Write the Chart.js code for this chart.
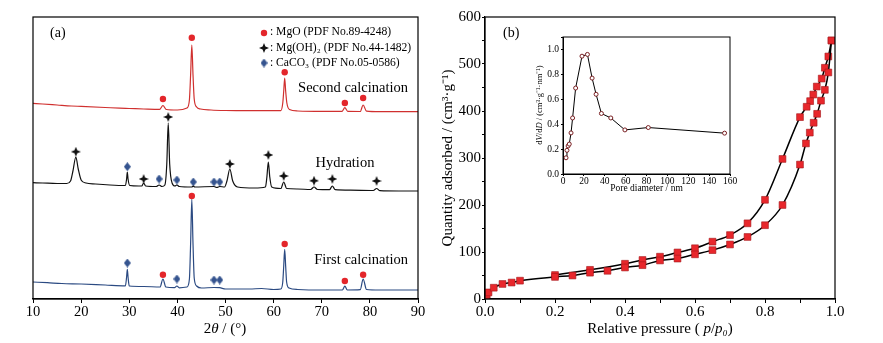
<!DOCTYPE html>
<html>
<head>
<meta charset="utf-8">
<script src="https://cdn.jsdelivr.net/npm/chart.js@4/dist/chart.umd.min.js"></script>
<style>
  body { margin: 0; background: #fff; }
  #wrap { position: relative; width: 883px; height: 343px; }
  canvas { position: absolute; }
</style>
</head>
<body>
<div id="wrap">
  <canvas id="xrd" width="440" height="343" style="left:0;top:0"></canvas>
  <canvas id="iso" width="443" height="343" style="left:440px;top:0"></canvas>
  <canvas id="pore" width="222" height="170" style="left:518px;top:28px"></canvas>
</div>
<script>
// ---- (a) XRD patterns, [2theta, intensity a.u.] (offset traces) ----
const secondCalc = [[10,195.7],[12,195],[15,194],[18,193],[20,192.6],[25,191.5],[28,190.8],[30,190.5],[33,190],[36.3,189.6],[37.0,193.5],[37.7,189.5],[40,189],[42.0,191],[42.5,199],[42.75,224],[43.0,254],[43.25,224],[43.5,200],[44.0,192],[44.8,190],[47,189],[50,188.5],[55,188.3],[61.5,188.4],[61.9,196],[62.1,208],[62.3,221],[62.5,208],[62.75,196],[63.3,189.5],[65,188],[70,187.6],[74.2,187.6],[74.8,191.3],[75.4,187.6],[78,187.5],[78.6,194],[79.3,187.8],[82,187.3],[90,187.3]];
const hydration = [[10,116.3],[12,116],[15,115.5],[17,115.5],[17.8,118],[18.3,128],[18.9,142],[19.4,130],[20,119],[21,116],[23,115],[26,114],[29.2,113.5],[29.45,120],[29.6,127],[29.75,120],[30.1,113.5],[32,113],[32.6,113],[33.0,116],[33.4,113],[35.6,112.5],[36.2,114],[36.8,112.5],[37.4,114],[37.8,135],[38.1,176],[38.4,135],[38.9,116],[39.5,113],[39.9,114],[40.4,112.5],[43,112],[43.3,113],[43.6,112],[47.6,112.5],[48.2,111.5],[48.8,112.5],[49.8,112],[50.3,118],[50.9,130],[51.5,118],[52.5,112],[56,111],[58.3,112],[58.6,122],[58.9,137],[59.2,122],[59.6,112],[61.5,110.5],[62.1,117],[62.7,110.5],[65,110],[67.7,109.5],[68.4,112],[69.1,109.5],[71.6,109.3],[72.2,113],[72.8,109.3],[76,108.8],[80.7,108.5],[81.4,110.5],[82.1,108.3],[86,108],[90,108]];
const firstCalc = [[10,17],[13,16.3],[16,15.5],[20,15],[25,14],[29.2,13.2],[29.45,22],[29.6,29.7],[29.75,22],[30.0,13],[33,12.5],[36.4,12],[37.0,20],[37.6,12],[39.4,11.3],[39.9,13],[40.4,11.2],[42.0,12],[42.5,20],[42.75,55],[43.0,99.7],[43.25,55],[43.5,21],[44.0,13],[45,11],[47.6,11.5],[48.8,11.3],[50,10],[55,10],[57.5,10.5],[60,9.5],[61.5,10],[61.9,17],[62.1,33],[62.3,49.7],[62.5,33],[62.7,17],[63.2,11],[65,9.5],[70,9],[74.3,9],[74.8,13],[75.3,9],[78.0,9.3],[78.6,20],[79.3,9.5],[82,9],[90,9]];

// phase markers
const mgoMarks = [[37,200],[43,261.3],[62.3,226.7],[74.8,196],[78.6,201],[37,24.3],[43,103],[62.3,55],[74.8,18],[78.6,24.3]];
const mgoh2Marks = [[18.9,147.3],[33,120],[38.1,182],[50.9,135],[58.9,144],[62.1,123],[68.4,118.3],[72.2,120],[81.4,118]];
const caco3Marks = [[29.6,132.3],[36.2,120],[39.9,119],[43.3,117],[47.6,117],[48.8,117],[29.6,36],[39.9,20],[47.6,19],[48.8,19]];

// ---- (b) N2 isotherm, [p/p0, cm3/g] ----
const adsorption = [[0.002,3],[0.005,9],[0.01,14],[0.025,24],[0.05,32],[0.076,35],[0.1,39],[0.2,47],[0.25,50],[0.3,56],[0.35,60],[0.4,67],[0.45,72],[0.5,82],[0.55,86],[0.6,95],[0.65,104],[0.7,116],[0.75,132],[0.8,157],[0.85,200],[0.9,286],[0.917,331],[0.928,354],[0.939,375],[0.949,394],[0.96,422],[0.971,445],[0.981,482],[0.99,550]];
const desorption = [[0.99,550],[0.981,516],[0.971,492],[0.962,469],[0.948,452],[0.938,435],[0.929,421],[0.919,409],[0.9,387],[0.85,298],[0.8,211],[0.75,161],[0.7,136],[0.65,122],[0.6,108],[0.55,99],[0.5,90],[0.45,83],[0.4,75],[0.3,62],[0.2,51]];

// ---- inset: pore size distribution ----
const poreDiam = [2.9,3.8,4.9,6.0,7.7,9.2,12.1,18.2,23.4,27.9,31.7,36.8,45.8,59.3,81.7,154.8];
const dVdD = [0.13,0.19,0.225,0.24,0.33,0.45,0.69,0.946,0.96,0.77,0.64,0.486,0.45,0.354,0.373,0.328];

Chart.defaults.font.family = "'Liberation Serif', 'Times New Roman', serif";
Chart.defaults.color = '#000';

const pts = arr => arr.map(([x, y]) => ({ x, y }));

function starImg(size, color) {
  const c = document.createElement('canvas');
  c.width = c.height = size;
  const g = c.getContext('2d');
  const h = size / 2, r = h * 0.28;
  g.fillStyle = color;
  g.beginPath();
  g.moveTo(h, 0); g.lineTo(h + r, h - r); g.lineTo(size, h); g.lineTo(h + r, h + r);
  g.lineTo(h, size); g.lineTo(h - r, h + r); g.lineTo(0, h); g.lineTo(h - r, h - r);
  g.closePath(); g.fill();
  return c;
}
function diamondImg(w, h, color) {
  const c = document.createElement('canvas');
  c.width = w; c.height = h;
  const g = c.getContext('2d');
  g.fillStyle = color;
  g.beginPath();
  g.moveTo(w / 2, 0); g.lineTo(w, h / 2); g.lineTo(w / 2, h); g.lineTo(0, h / 2);
  g.closePath(); g.fill();
  return c;
}
const STAR = starImg(10, '#111');
const DIAMOND = diamondImg(7, 9, '#35548f');
const RED = '#e3262b';

// text with italic pieces: parts = [[text, italic], ...]
function richText(ctx, parts, x, y, size, align) {
  ctx.save();
  ctx.textBaseline = 'middle';
  ctx.textAlign = 'left';
  const fam = Chart.defaults.font.family;
  let total = 0;
  parts.forEach(([t, it]) => { ctx.font = (it ? 'italic ' : '') + size + 'px ' + fam; total += ctx.measureText(t).width; });
  let cx = align === 'center' ? x - total / 2 : (align === 'right' ? x - total : x);
  parts.forEach(([t, it]) => {
    ctx.font = (it ? 'italic ' : '') + size + 'px ' + fam;
    ctx.fillStyle = '#000';
    ctx.fillText(t, cx, y);
    cx += ctx.measureText(t).width;
  });
  ctx.restore();
}
function plainText(ctx, t, x, y, size, align) {
  richText(ctx, [[t, false]], x, y, size, align);
}
function frame(chart, lw) {
  const a = chart.chartArea, ctx = chart.ctx;
  ctx.save();
  ctx.strokeStyle = '#000';
  ctx.lineWidth = lw;
  ctx.strokeRect(a.left, a.top, a.right - a.left, a.bottom - a.top);
  ctx.restore();
}

// ---------- panel (a) ----------
new Chart(document.getElementById('xrd'), {
  type: 'scatter',
  data: {
    datasets: [
      { data: pts(secondCalc), showLine: true, borderColor: '#d0302f', borderWidth: 1.2, pointRadius: 0, cubicInterpolationMode: 'monotone' },
      { data: pts(hydration), showLine: true, borderColor: '#111', borderWidth: 1.2, pointRadius: 0, cubicInterpolationMode: 'monotone' },
      { data: pts(firstCalc), showLine: true, borderColor: '#2b4a82', borderWidth: 1.2, pointRadius: 0, cubicInterpolationMode: 'monotone' },
      { data: pts(mgoMarks), pointStyle: 'circle', pointRadius: 3.2, backgroundColor: RED, borderColor: RED, borderWidth: 0 },
      { data: pts(mgoh2Marks), pointStyle: STAR, pointRadius: 5 },
      { data: pts(caco3Marks), pointStyle: DIAMOND, pointRadius: 5 }
    ]
  },
  options: {
    responsive: false,
    animation: false,
    layout: { padding: { left: 33, right: 22, top: 17, bottom: 0 } },
    plugins: { legend: { display: false }, tooltip: { enabled: false } },
    scales: {
      x: {
        type: 'linear', min: 10, max: 90,
        ticks: { stepSize: 10, font: { size: 14.5 }, padding: 0 },
        grid: { drawOnChartArea: false, tickLength: 4, color: '#000' },
        border: { color: '#000', width: 1.2 },
        afterFit(s) { s.height = 44; }
      },
      y: { display: false, min: 0, max: 282 }
    }
  },
  plugins: [{
    id: 'decorA',
    afterDraw(chart) {
      const ctx = chart.ctx;
      frame(chart, 1.2);
      plainText(ctx, '(a)', 50, 33, 14, 'left');
      // phase legend
      ctx.save();
      ctx.fillStyle = RED;
      ctx.beginPath(); ctx.arc(264, 33, 3.2, 0, Math.PI * 2); ctx.fill();
      ctx.drawImage(STAR, 259, 43);
      ctx.drawImage(DIAMOND, 260.5, 58.5);
      ctx.restore();
      plainText(ctx, ': MgO (PDF No.89-4248)', 270, 32, 11.6, 'left');
      plainText(ctx, ': Mg(OH)\u2082 (PDF No.44-1482)', 270, 48, 11.6, 'left');
      plainText(ctx, ': CaCO\u2083 (PDF No.05-0586)', 270, 63, 11.6, 'left');
      plainText(ctx, 'Second calcination', 408, 88, 14.5, 'right');
      plainText(ctx, 'Hydration', 345, 163, 14.5, 'center');
      plainText(ctx, 'First calcination', 408, 260, 14.5, 'right');
      richText(ctx, [['2', false], ['\u03b8', true], [' / (\u00b0)', false]], 225, 329, 15, 'center');
    }
  }]
});

// ---------- panel (b) ----------
new Chart(document.getElementById('iso'), {
  type: 'scatter',
  data: {
    datasets: [
      { data: pts(adsorption), showLine: true, borderColor: '#000', borderWidth: 1.5, pointStyle: 'rect', pointRadius: 4.8, backgroundColor: '#e8272c', pointBorderColor: '#a3161a', pointBorderWidth: 0.6, cubicInterpolationMode: 'monotone' },
      { data: pts(desorption), showLine: true, borderColor: '#000', borderWidth: 1.5, pointStyle: 'rect', pointRadius: 4.8, backgroundColor: '#e8272c', pointBorderColor: '#a3161a', pointBorderWidth: 0.6, cubicInterpolationMode: 'monotone' }
    ]
  },
  options: {
    responsive: false,
    animation: false,
    layout: { padding: { left: 0, right: 48, top: 17, bottom: 0 } },
    plugins: { legend: { display: false }, tooltip: { enabled: false } },
    scales: {
      x: {
        type: 'linear', min: 0, max: 1,
        ticks: { stepSize: 0.1, font: { size: 15 }, padding: 0, autoSkip: false,
          callback: v => (Math.round(v * 10) % 2 === 0 ? v.toFixed(1) : '') },
        grid: { drawOnChartArea: false, tickLength: 4, color: '#000' },
        border: { color: '#000', width: 1.2 },
        afterFit(s) { s.height = 44; }
      },
      y: {
        type: 'linear', min: 0, max: 600,
        ticks: { stepSize: 50, font: { size: 15 }, padding: 1, autoSkip: false,
          callback: v => (v % 100 === 0 ? v : '') },
        grid: { drawOnChartArea: false, tickLength: 3, color: '#000' },
        border: { color: '#000', width: 1.2 },
        afterFit(s) { s.width = 45; }
      }
    }
  },
  plugins: [{
    id: 'decorB',
    afterDraw(chart) {
      const ctx = chart.ctx;
      frame(chart, 1.2);
      plainText(ctx, '(b)', 63, 33, 14, 'left');
      richText(ctx, [['Relative pressure ( ', false], ['p', true], ['/', false], ['p', true], ['\u2080', true], [')', false]], 220, 329, 15, 'center');
      ctx.save();
      ctx.translate(8, 158);
      ctx.rotate(-Math.PI / 2);
      plainText(ctx, 'Quantity adsorbed / (cm\u00b3\u00b7g\u207b\u00b9)', 0, 0, 15, 'center');
      ctx.restore();
    }
  }]
});

// ---------- inset ----------
new Chart(document.getElementById('pore'), {
  type: 'line',
  data: {
    datasets: [{
      data: poreDiam.map((x, i) => ({ x, y: dVdD[i] })),
      borderColor: '#000', borderWidth: 1, pointRadius: 2, pointBackgroundColor: '#fff',
      pointBorderColor: '#7a1f22', pointBorderWidth: 1, tension: 0
    }]
  },
  options: {
    responsive: false,
    animation: false,
    layout: { padding: { left: 0, right: 10, top: 9, bottom: 0 } },
    plugins: { legend: { display: false }, tooltip: { enabled: false } },
    scales: {
      x: {
        type: 'linear', min: 0, max: 160,
        ticks: { stepSize: 20, font: { size: 9.5 }, padding: 0 },
        grid: { drawOnChartArea: false, tickLength: 2, color: '#000' },
        border: { color: '#000', width: 1 },
        afterFit(s) { s.height = 24; }
      },
      y: {
        type: 'linear', min: 0, max: 1.1,
        ticks: { stepSize: 0.2, font: { size: 9.5 }, padding: 2,
          callback: v => (v > 1.05 ? '' : v.toFixed(1)) },
        grid: { drawOnChartArea: false, tickLength: 2, color: '#000' },
        border: { color: '#000', width: 1 },
        afterFit(s) { s.width = 45; }
      }
    }
  },
  plugins: [{
    id: 'decorInset',
    beforeDraw(chart) {
      const a = chart.chartArea, ctx = chart.ctx;
      ctx.save(); ctx.fillStyle = '#fff'; ctx.fillRect(a.left, a.top, a.right - a.left, a.bottom - a.top); ctx.restore();
    },
    afterDraw(chart) {
      const ctx = chart.ctx;
      frame(chart, 1);
      plainText(ctx, 'Pore diameter / nm', (chart.chartArea.left + chart.chartArea.right) / 2, 160, 9.5, 'center');
      ctx.save();
      ctx.translate(22, 77);
      ctx.rotate(-Math.PI / 2);
      richText(ctx, [['d', false], ['V', true], ['/d', false], ['D', true], [' / (cm\u00b3\u00b7g\u207b\u00b9\u00b7nm\u207b\u00b9)', false]], 0, 0, 8.5, 'center');
      ctx.restore();
    }
  }]
});
</script>
</body>
</html>
